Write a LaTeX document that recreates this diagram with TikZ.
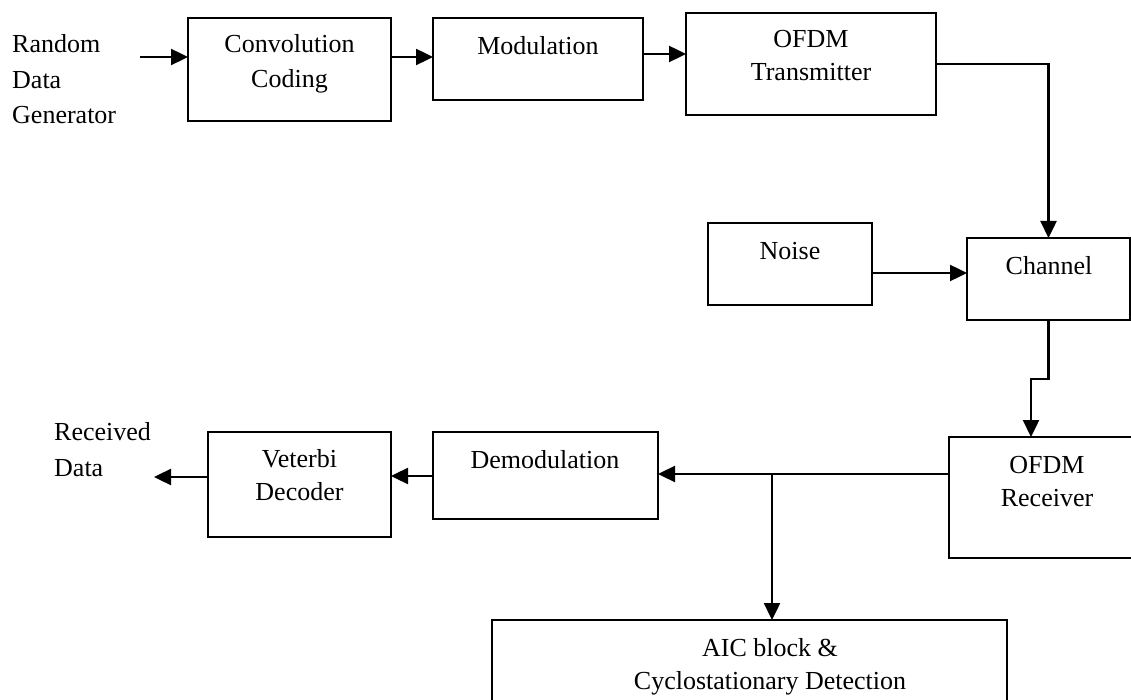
\documentclass[tikz,border=0pt]{standalone}
\usepackage{fontspec}
\setmainfont{Liberation Serif}
\usetikzlibrary{arrows.meta}
\begin{document}
\begin{tikzpicture}[x=1pt,y=-1pt,
  box/.style={draw, line width=2pt, inner sep=0pt, outer sep=0pt, anchor=north west},
  lbl/.style={inner sep=0pt, anchor=base, font=\fontsize{26}{35}\selectfont},
  lbll/.style={lbl, anchor=base west},
  arr/.style={line width=2.4pt, -{Triangle[length=17pt,width=16pt]}},
  wire/.style={line width=2.4pt}]
\useasboundingbox (0,0) rectangle (1131,700);
\clip (0,0) rectangle (1131,700);
% boxes
\node[box, minimum width=203pt, minimum height=103pt] (conv) at (188,18) {};
\node[box, minimum width=210pt, minimum height=82pt] (mod) at (433,18) {};
\node[box, minimum width=250pt, minimum height=102pt] (ofdmT) at (686,13) {};
\node[box, minimum width=164pt, minimum height=82pt] (noise) at (708,223) {};
\node[box, minimum width=163pt, minimum height=82pt] (chan) at (967,238) {};
\node[box, minimum width=190pt, minimum height=121pt] (recv) at (949,437) {};
\node[box, minimum width=225pt, minimum height=87pt] (demod) at (433,432) {};
\node[box, minimum width=183pt, minimum height=105pt] (vit) at (208,432) {};
\node[box, minimum width=515pt, minimum height=90pt] (aic) at (492,620) {};
% texts
\node[lbll] (t1) at (12,53) {Random};
\node[lbll] (t2) at (12,89) {Data};
\node[lbll] (t3) at (12,124) {Generator};
\node[lbl] (t4) at (289.5,53) {Convolution};
\node[lbl] (t5) at (289.5,88) {Coding};
\node[lbl] (t6) at (538,55) {Modulation};
\node[lbl] (t7) at (811,48) {OFDM};
\node[lbl] (t8) at (811,81) {Transmitter};
\node[lbl] (t9) at (790,260) {Noise};
\node[lbl] (t10) at (1049,275) {Channel};
\node[lbl] (t11) at (1047,473) {OFDM};
\node[lbl] (t12) at (1047,506) {Receiver};
\node[lbl] (t13) at (545,468) {Demodulation};
\node[lbl] (t14) at (299.5,467) {Veterbi};
\node[lbl] (t15) at (299.5,500) {Decoder};
\node[lbl] (t16) at (770,656) {AIC block \&};
\node[lbl] (t17) at (770,689) {Cyclostationary Detection};
\node[lbll] (t18) at (54,440) {Received};
\node[lbll] (t19) at (54,476) {Data};
% coordinates
\coordinate (src) at (140,57);
\coordinate (out) at (154,477);
\coordinate (c1) at (1048.5,64);
\coordinate (c2) at (1048.5,379);
\coordinate (c3) at (1031,379);
\coordinate (br) at (772,474);
% connectors
\draw[arr] (src) -- (conv.west |- src);
\draw[arr] (conv.east |- 0,57) -- (mod.west |- 0,57);
\draw[arr] (mod.east |- 0,54) -- (ofdmT.west |- 0,54);
\draw[arr] (ofdmT.east |- c1) -- (c1) -- (chan.north);
\draw[arr] (noise.east |- 0,273) -- (chan.west |- 0,273);
\draw[arr] (chan.south) -- (c2) -- (c3) -- (recv.north -| c3);
\draw[arr] (recv.west |- br) -- (demod.east |- br);
\draw[arr] (br) -- (aic.north -| br);
\draw[arr] (demod.west |- 0,476) -- (vit.east |- 0,476);
\draw[arr] (vit.west |- out) -- (out);
\end{tikzpicture}
\end{document}
